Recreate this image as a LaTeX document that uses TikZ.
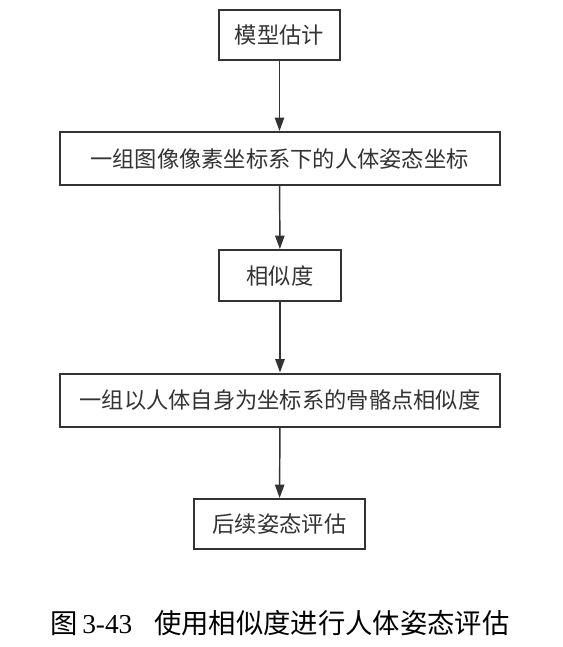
\documentclass[tikz,border=0pt]{standalone}
\usepackage{fontspec}
\setmainfont{Liberation Serif}
\newfontfamily\cjk{Noto Sans CJK SC}
\usetikzlibrary{arrows.meta}
\definecolor{ink}{HTML}{333333}
\begin{document}
\begin{tikzpicture}[x=0.75pt,y=-0.75pt,
  box/.style={draw=ink,line width=1.5pt,fill=white,text=ink,inner sep=0pt,font=\cjk\fontsize{16.7pt}{18pt}\selectfont},
  conn/.style={draw=ink,line width=1.1pt,-{Triangle[length=10pt,width=7pt]}}]
\useasboundingbox (0,0) rectangle (562,647);
\node[box,minimum width=90.75pt,minimum height=37.5pt] (a) at (279.5,35) {模型估计};
\node[box,minimum width=330pt,minimum height=39.75pt] (b) at (279.5,158.5) {一组图像像素坐标系下的人体姿态坐标};
\node[box,minimum width=91.5pt,minimum height=38.25pt] (c) at (280,275.5) {相似度};
\node[box,minimum width=330pt,minimum height=39.75pt] (d) at (280,400) {一组以人体自身为坐标系的骨骼点相似度};
\node[box,minimum width=128.25pt,minimum height=37.5pt] (e) at (279.5,524) {后续姿态评估};
\draw[conn] (a) -- (b);
\draw[conn] (b) -- (c);
\draw[conn] (c) -- (d);
\draw[conn] (d) -- (e);
\node[text=black,inner sep=0pt,anchor=base] (cap) at (280,633) {\fontsize{20.5pt}{22pt}\selectfont{\cjk 图}\,3-43\hspace{0.8em}{\cjk 使用相似度进行人体姿态评估}};
\end{tikzpicture}
\end{document}
